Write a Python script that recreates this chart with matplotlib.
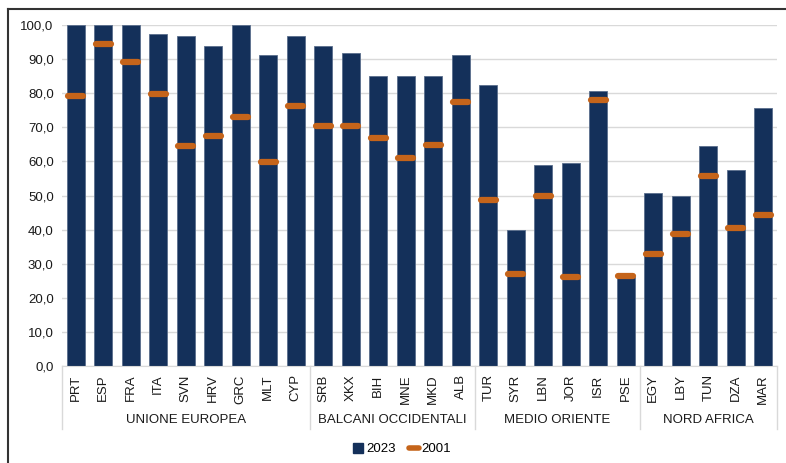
import matplotlib.pyplot as plt
from matplotlib.lines import Line2D
from matplotlib.patches import Patch
import numpy as np

plt.rcParams['font.family'] = ['Liberation Sans', 'DejaVu Sans']

countries = ['PRT', 'ESP', 'FRA', 'ITA', 'SVN', 'HRV', 'GRC', 'MLT', 'CYP',
             'SRB', 'XKX', 'BIH', 'MNE', 'MKD', 'ALB',
             'TUR', 'SYR', 'LBN', 'JOR', 'ISR', 'PSE',
             'EGY', 'LBY', 'TUN', 'DZA', 'MAR']
groups = ['UNIONE EUROPEA', 'BALCANI OCCIDENTALI', 'MEDIO ORIENTE', 'NORD AFRICA']
group_sizes = [9, 6, 6, 5]
v2023 = [100.0, 100.0, 100.0, 97.4, 96.9, 93.7, 100.0, 91.1, 96.9,
         93.7, 91.8, 84.9, 84.9, 84.9, 91.1,
         82.4, 40.0, 58.8, 59.4, 80.5, 26.1,
         50.6, 49.9, 64.4, 57.5, 75.6]
v2001 = [79.2, 94.3, 89.2, 79.9, 64.4, 67.4, 73.0, 59.9, 76.2,
         70.5, 70.5, 66.8, 61.1, 64.9, 77.4,
         48.8, 26.9, 49.9, 26.2, 78.0, 26.3,
         32.9, 38.7, 55.6, 40.5, 44.3]

navy = '#14305A'
orange = '#C5641A'

fig = plt.figure(figsize=(7.86, 4.63), dpi=100)
ax = fig.add_axes([62 / 786, 97 / 463, 715 / 786, 341 / 463])

x = np.arange(len(countries))
ax.bar(x, v2023, width=0.66, color=navy, edgecolor='#5A6E8C', linewidth=0.6, zorder=2)
ax.hlines(v2001, x - 0.27, x + 0.27, colors=orange, linewidth=4.5, capstyle='round', zorder=3)

ax.set_xlim(-0.5, len(countries) - 0.5)
ax.set_ylim(0, 100)
ax.set_yticks(np.arange(0, 101, 10))
ax.set_yticklabels([f'{v:.1f}'.replace('.', ',') for v in range(0, 101, 10)], fontsize=9.5)
ax.set_xticks(x)
ax.set_xticklabels(countries, rotation=90, fontsize=9.5)
ax.tick_params(axis='both', length=0, pad=6, colors='#1a1a1a')
ax.grid(axis='y', color='#D9D9D9', linewidth=1, zorder=0)
for s in ['top', 'right', 'left']:
    ax.spines[s].set_visible(False)
ax.spines['bottom'].set_color('#D9D9D9')

# group labels and separators
bounds = np.concatenate([[0], np.cumsum(group_sizes)]) - 0.5
for b in bounds:
    ax.plot([b, b], [0, -0.185], transform=ax.get_xaxis_transform(),
            color='#D9D9D9', linewidth=1, clip_on=False)
for name, lo, hi in zip(groups, bounds[:-1], bounds[1:]):
    ax.text((lo + hi) / 2, -0.158, name, transform=ax.get_xaxis_transform(),
            ha='center', va='center', fontsize=9.5, color='#1a1a1a')

handles = [Patch(facecolor=navy, edgecolor=navy),
           Line2D([0], [0], color=orange, linewidth=4, solid_capstyle='round')]
fig.legend(handles, ['2023', '2001'], loc='center', bbox_to_anchor=(402 / 786, 1 - 449 / 463),
           ncol=2, frameon=False, fontsize=9.5, handlelength=0.8, handleheight=0.8,
           handletextpad=0.2, columnspacing=1.0)

# outer frame (left and top only)
fig.add_artist(Line2D([7.5 / 786, 7.5 / 786], [0, 1 - 9 / 463], color='#333333', linewidth=1.5))
fig.add_artist(Line2D([7.5 / 786, 1], [1 - 9 / 463, 1 - 9 / 463], color='#333333', linewidth=1.5))

fig.savefig('out.png', dpi=100)
